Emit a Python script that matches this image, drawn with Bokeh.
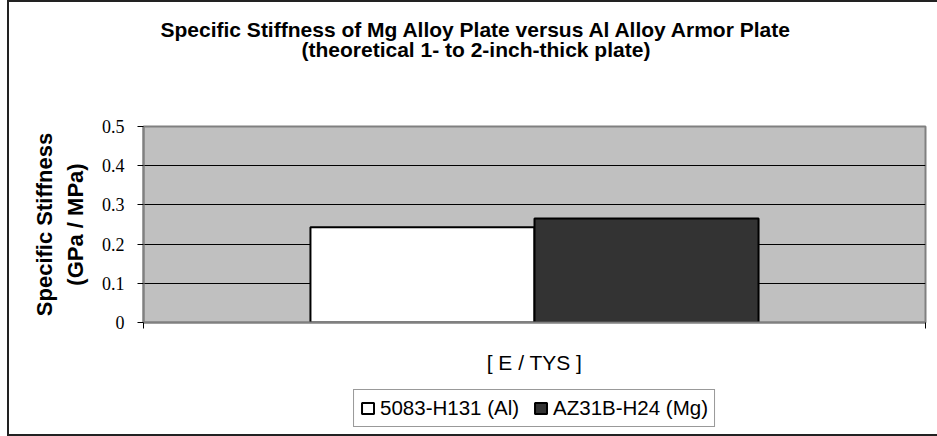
from bokeh.plotting import figure
from bokeh.models import Legend, LegendItem, FixedTicker, Title, LinearAxis
from bokeh.layouts import column
from bokeh.embed import file_html
from bokeh.resources import INLINE

# ---- data ----
chart_title = ["Specific Stiffness of Mg Alloy Plate versus Al Alloy Armor Plate",
               "(theoretical 1- to 2-inch-thick plate)"]
y_title = ["Specific Stiffness", "(GPa / MPa)"]
category = ["[ E / TYS ]"]
series = ["5083-H131 (Al)", "AZ31B-H24 (Mg)"]
values = [0.243, 0.265]
colors = ["#ffffff", "#333333"]
y_ticks = [0, 0.1, 0.2, 0.3, 0.4, 0.5]
y_tick_labels = ["0", "0.1", "0.2", "0.3", "0.4", "0.5"]

SANS = "Liberation Sans"
SERIF = "Liberation Serif"

p = figure(width=930, height=380,
           x_range=(0, 1), y_range=(0, 0.5),
           output_backend="svg", toolbar_location=None,
           min_border_left=134, min_border_right=14,
           min_border_top=124, min_border_bottom=60,
           background_fill_color="#c0c0c0", border_fill_color="white")
p.outline_line_color = "#808080"
p.outline_line_width = 2

xa = p.below[0]
ya = p.left[0]

# invisible spacer between the title and the frame
spacer = LinearAxis(ticker=FixedTicker(ticks=[0.5]), major_label_overrides={0.5: ""},
                    major_tick_out=64, major_tick_in=0,
                    major_label_standoff=0, major_label_text_font_size="0px",
                    axis_line_color=None, major_tick_line_color=None,
                    minor_tick_line_color=None)
p.add_layout(spacer, "above")

# title: two lines, inner one added first
for txt, off, so in [(chart_title[1], 158, 0), (chart_title[0], 17, -10)]:
    p.add_layout(Title(text=txt, align="left", offset=off, standoff=so,
                       vertical_align="top",
                       text_font=SANS, text_font_size="21px",
                       text_font_style="bold", text_color="black"), "above")

# bars
bar_width = 0.2865
n = len(series)
centers = [0.5 + (i - (n - 1) / 2) * bar_width for i in range(n)]
for xc, val, col in zip(centers, values, colors):
    p.vbar(x=[xc], top=[val], bottom=0, width=bar_width,
           fill_color=col, line_color="black", line_width=2)

# grids
p.xgrid.visible = False
p.ygrid.ticker = FixedTicker(ticks=y_ticks[1:-1])
p.ygrid.grid_line_color = "black"
p.ygrid.grid_line_width = 1

# y axis
ya.ticker = FixedTicker(ticks=y_ticks)
ya.major_label_overrides = {t_: l for t_, l in zip(y_ticks, y_tick_labels)}
ya.axis_line_color = "#808080"
ya.axis_line_width = 2
ya.major_tick_line_color = "black"
ya.major_tick_out = 6
ya.major_tick_in = 0
ya.minor_tick_line_color = None
ya.major_label_text_font = SERIF
ya.major_label_text_font_size = "18px"
ya.major_label_text_color = "black"
ya.major_label_standoff = 13
ya.axis_label = "\n".join(y_title)
ya.axis_label_text_font = SANS
ya.axis_label_text_font_size = "22px"
ya.axis_label_text_font_style = "bold"
ya.axis_label_text_color = "black"
ya.axis_label_text_line_height = 1.25
ya.axis_label_standoff = 11

# x axis
xa.ticker = FixedTicker(ticks=[0, 1])
xa.major_label_overrides = {0: "", 1: ""}
xa.major_label_text_font_size = "0px"
xa.major_label_standoff = 0
xa.axis_line_color = "#808080"
xa.axis_line_width = 2
xa.major_tick_line_color = "black"
xa.major_tick_out = 6
xa.major_tick_in = 0
xa.minor_tick_line_color = None
xa.axis_label = category[0]
xa.axis_label_text_font = SANS
xa.axis_label_text_font_size = "21px"
xa.axis_label_text_font_style = "normal"
xa.axis_label_text_color = "black"
xa.axis_label_standoff = 22

# legend strip (aligned with the plot frame above)
leg = figure(width=930, height=52, x_range=(0, 1), y_range=(0, 1),
             output_backend="svg", toolbar_location=None,
             x_axis_location=None, y_axis_location=None,
             min_border_left=134, min_border_right=14,
             min_border_top=0, min_border_bottom=0,
             background_fill_color="white", border_fill_color="white")
leg.outline_line_color = None
leg.xgrid.visible = False
leg.ygrid.visible = False
swatches = []
for xc, val, col in zip(centers, values, colors):
    r = leg.vbar(x=[xc], top=[val], bottom=0, width=bar_width,
                 fill_color=col, line_color="black", line_width=2)
    r.visible = False   # only used to draw the legend swatch
    swatches.append(r)
legend = Legend(items=[LegendItem(label=s, renderers=[r]) for s, r in zip(series, swatches)],
                orientation="horizontal", location="center", click_policy="none",
                inactive_fill_alpha=0.0,
                label_text_font=SANS, label_text_font_size="20.5px",
                label_text_color="black",
                glyph_width=15, glyph_height=14, label_standoff=5,
                spacing=14, padding=6, margin=0,
                border_line_color="#333333", border_line_width=1,
                background_fill_color="white", background_fill_alpha=1.0)
leg.add_layout(legend, "center")

page = column(p, leg, spacing=0,
              styles={"border": "2px solid #222222", "margin-left": "7px"})

open("out.html", "w").write(file_html(page, INLINE))
